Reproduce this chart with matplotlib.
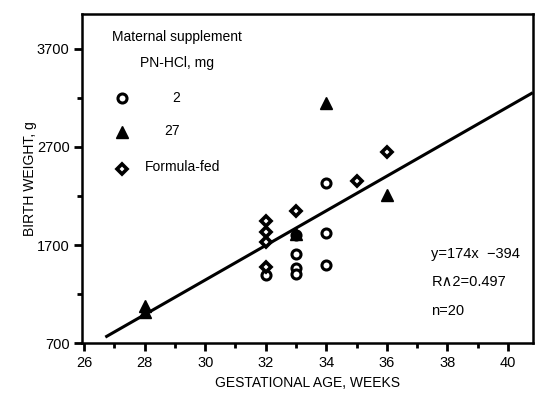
import numpy as np
import matplotlib.pyplot as plt

plt.rcParams['font.family'] = ['Liberation Sans', 'DejaVu Sans']

# 2 mg PN-HCl (open circles)
circ_x = [34, 34, 33, 34, 33, 33, 32, 33]
circ_y = [2330, 1826, 1612, 1494, 1462, 1402, 1394, 1800]

# 27 mg PN-HCl (filled triangles)
tri_x = [34, 36, 33, 28, 28]
tri_y = [3150, 2215, 1815, 1075, 1020]

# formula-fed (diamonds)
dia_x = [36, 35, 33, 32, 32, 32, 32]
dia_y = [2650, 2355, 2050, 1948, 1836, 1728, 1480]

# regression line end points
line_x = [26.7, 40.82]
line_y = [760, 3254]

fig = plt.figure(figsize=(5.36, 3.95), dpi=100)
ax = fig.add_axes([0.153, 0.1316, 0.841, 0.833])

ax.plot(line_x, line_y, color='black', lw=2.2, solid_capstyle='butt', zorder=2)
ax.plot(circ_x, circ_y, 'o', ms=6.5, mfc='white', mec='black', mew=2.2, ls='none', zorder=3)
ax.plot(dia_x, dia_y, 'D', ms=5, mfc='white', mec='black', mew=2.6, ls='none', zorder=3)
ax.plot(tri_x, tri_y, '^', ms=8.5, color='black', ls='none', zorder=4)

ax.set_xlim(25.93, 40.82)
ax.set_ylim(700, 4057)
ax.set_xticks(np.arange(26, 41, 2))
ax.set_xticks(np.arange(27, 41, 2), minor=True)
ax.set_yticks([700, 1700, 2700, 3700])
ax.set_yticks([1200, 2200, 3200], minor=True)
ax.tick_params(which='major', direction='out', length=6, width=2, labelsize=10.5, pad=3)
ax.tick_params(which='minor', direction='out', length=3.5, width=2)
for s in ax.spines.values():
    s.set_linewidth(1.8)

ax.set_xlabel('GESTATIONAL AGE, WEEKS', fontsize=10, labelpad=5)
ax.set_ylabel('BIRTH WEIGHT, g', fontsize=10, labelpad=0)

# legend drawn as text + markers in axes coordinates
tr = ax.transAxes
ax.text(0.21, 0.93, 'Maternal supplement', transform=tr, ha='center', va='center', fontsize=10)
ax.text(0.21, 0.852, 'PN-HCl, mg', transform=tr, ha='center', va='center', fontsize=10)
ax.plot([0.088], [0.744], 'o', ms=6.5, mfc='white', mec='black', mew=2.2, transform=tr, clip_on=False)
ax.text(0.21, 0.744, '2', transform=tr, ha='center', va='center', fontsize=10)
ax.plot([0.088], [0.64], '^', ms=8.5, color='black', transform=tr, clip_on=False)
ax.text(0.2, 0.645, '27', transform=tr, ha='center', va='center', fontsize=10)
ax.plot([0.088], [0.53], 'D', ms=5, mfc='white', mec='black', mew=2.6, transform=tr, clip_on=False)
ax.text(0.14, 0.535, 'Formula-fed', transform=tr, ha='left', va='center', fontsize=10)

ax.text(0.775, 0.272, 'y=174x  \u2212394', transform=tr, ha='left', va='center', fontsize=10.5)
ax.text(0.775, 0.185, 'R\u22272=0.497', transform=tr, ha='left', va='center', fontsize=10.5)
ax.text(0.775, 0.097, 'n=20', transform=tr, ha='left', va='center', fontsize=10.5)

fig.savefig('out.png', dpi=100)
